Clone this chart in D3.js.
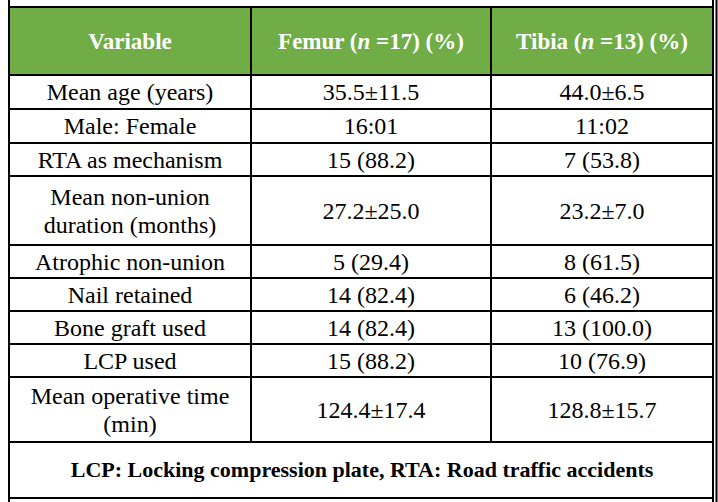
<!DOCTYPE html><html><head><meta charset="utf-8"><script src="https://cdn.jsdelivr.net/npm/d3@7"></script>
<style>body{margin:0;background:#fff} text{font-family:"Liberation Serif","Times New Roman","DejaVu Serif",serif}</style></head><body><svg id="c" width="718" height="502"></svg><script>
const headers=[["Variable"],["Femur (","n"," =17) (%)"],["Tibia (","n"," =13) (%)"]];
const variables=[["Mean age (years)"],["Male: Female"],["RTA as mechanism"],["Mean non-union","duration (months)"],["Atrophic non-union"],["Nail retained"],["Bone graft used"],["LCP used"],["Mean operative time","(min)"]];
const femur=["35.5±11.5","16:01","15 (88.2)","27.2±25.0","5 (29.4)","14 (82.4)","14 (82.4)","15 (88.2)","124.4±17.4"];
const tibia=["44.0±6.5","11:02","7 (53.8)","23.2±7.0","8 (61.5)","6 (46.2)","13 (100.0)","10 (76.9)","128.8±15.7"];
const footnote="LCP: Locking compression plate, RTA: Road traffic accidents";
const rowEdges=[7,75,109,143,176,245,278,311,344,377,442,498];
const colEdges=[9,251,491,713];
const svg=d3.select("#c");
svg.append("rect").attr("x",colEdges[0]).attr("y",rowEdges[0]).attr("width",colEdges[3]-colEdges[0]).attr("height",rowEdges[1]-rowEdges[0]).attr("fill","#70AD47");
headers.forEach((h,i)=>{const t=svg.append("text").attr("x",(colEdges[i]+colEdges[i+1])/2).attr("y",(rowEdges[0]+rowEdges[1])/2+8).attr("text-anchor","middle").attr("font-size",23).attr("font-weight","bold").attr("fill","#fff");
h.forEach((s,j)=>t.append("tspan").text(s).attr("font-style",j==1?"italic":"normal"));});
variables.forEach((v,r)=>{const y0=rowEdges[r+1],y1=rowEdges[r+2],cy=(y0+y1)/2;
[v,[femur[r]],[tibia[r]]].forEach((lines,c)=>{lines.forEach((s,k)=>{svg.append("text").attr("x",(colEdges[c]+colEdges[c+1])/2).attr("y",cy+8+(k-(lines.length-1)/2)*28).attr("text-anchor","middle").attr("font-size",24).attr("fill","#000").text(s);});});});
svg.append("text").attr("x",(colEdges[0]+colEdges[3])/2+1).attr("y",(rowEdges[10]+rowEdges[11])/2+7).attr("text-anchor","middle").attr("font-size",22).attr("font-weight","bold").text(footnote);
const L=(x1,y1,x2,y2)=>svg.append("line").attr("x1",x1).attr("y1",y1).attr("x2",x2).attr("y2",y2).attr("stroke","#000").attr("stroke-width",2);
rowEdges.forEach(y=>L(colEdges[0],y,colEdges[3],y));
L(colEdges[0],0,colEdges[0],502);L(colEdges[3],0,colEdges[3],502);L(716.5,0,716.5,502);
[1,2].forEach(i=>L(colEdges[i],rowEdges[0],colEdges[i],rowEdges[10]));
</script></body></html>
